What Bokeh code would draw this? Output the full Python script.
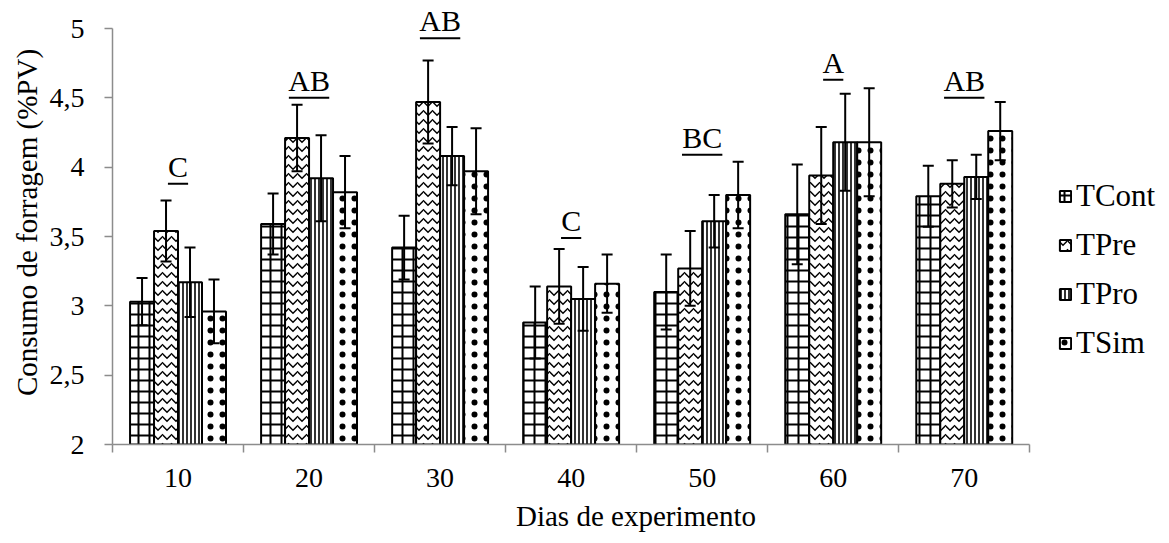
import numpy as np
from bokeh.plotting import figure
from bokeh.models import (ColumnDataSource, Range1d, FixedTicker, Whisker, TeeHead,
                          Legend, LegendItem)
from bokeh.embed import file_html
from bokeh.resources import INLINE
from bokeh.core.properties import value

# ---- data ----
days = ["10", "20", "30", "40", "50", "60", "70"]
series_names = ["TCont", "TPre", "TPro", "TSim"]
tcont = [3.03, 3.59, 3.42, 2.88, 3.10, 3.66, 3.79]
tcont_err = [0.17, 0.22, 0.23, 0.26, 0.27, 0.36, 0.22]
tpre = [3.54, 4.21, 4.47, 3.14, 3.27, 3.94, 3.88]
tpre_err = [0.22, 0.24, 0.30, 0.27, 0.27, 0.35, 0.17]
tpro = [3.17, 3.92, 4.08, 3.05, 3.61, 4.18, 3.93]
tpro_err = [0.25, 0.31, 0.21, 0.23, 0.19, 0.35, 0.16]
tsim = [2.96, 3.82, 3.97, 3.16, 3.80, 4.18, 4.26]
tsim_err = [0.23, 0.26, 0.31, 0.21, 0.24, 0.39, 0.21]
letters = ["C", "AB", "AB", "C", "BC", "A", "AB"]
letter_level = [3.88, 4.50, 4.93, 3.49, 4.09, 4.63, 4.50]
y_ticks = [2, 2.5, 3, 3.5, 4, 4.5, 5]
y_tick_labels = ["2", "2,5", "3", "3,5", "4", "4,5", "5"]

FONT = "Liberation Serif"
AXIS_GRAY = "#8c8c8c"

p = figure(width=1169, height=543, output_backend="svg", toolbar_location=None,
           x_range=Range1d(0.5, 8.49), y_range=Range1d(2, 5.202),
           min_border_left=112, min_border_right=10, min_border_top=0,
           min_border_bottom=99)
p.outline_line_color = None
p.xgrid.visible = False
p.ygrid.visible = False

n = len(days)
centers = np.arange(1, n + 1, dtype=float)
bw = 0.183
values = [tcont, tpre, tpro, tsim]
errors = [tcont_err, tpre_err, tpro_err, tsim_err]
hatches = [("cross", 11, 2.0), ("horizontal_wave", 9, 1.5),
           ("vertical_line", 4, 1.6), ("dot", 12, 1.3)]

items = []
for k, (name, vals, errs, (hp, hs, hw)) in enumerate(zip(series_names, values, errors, hatches)):
    xs = centers + (k - 1.5) * bw
    src = ColumnDataSource(dict(x=xs, top=vals,
                                upper=np.array(vals) + np.array(errs),
                                lower=np.array(vals) - np.array(errs)))
    r = p.vbar(x="x", top="top", bottom=2, width=bw, source=src,
               fill_color="white", line_color="black", line_width=2,
               hatch_pattern=value(hp), hatch_scale=hs, hatch_weight=hw,
               hatch_color="black")
    w = Whisker(source=src, base="x", upper="upper", lower="lower",
                line_color="black", line_width=2, level="annotation",
                upper_head=TeeHead(size=11, line_width=2, line_color="black"),
                lower_head=TeeHead(size=11, line_width=2, line_color="black"))
    p.add_layout(w)
    items.append(LegendItem(label=name, renderers=[r]))

# significance letters with underline
p.text(x=centers, y=letter_level, text=letters, text_align="center",
       text_baseline="bottom", y_offset=-1, text_font=value(FONT),
       text_font_size="30px", text_color="black")
half = np.array([len(s) for s in letters]) * 0.077
p.segment(x0=centers - half, x1=centers + half, y0=letter_level, y1=letter_level,
          line_color="black", line_width=2)

# x axis: labels at centres, ticks at boundaries
xa = p.xaxis[0]
xa.ticker = FixedTicker(ticks=list(centers),
                        minor_ticks=list(np.arange(0.5, n + 1, 1.0)))
xa.major_label_overrides = {float(c): d for c, d in zip(centers, days)}
xa.bounds = (0.5, n + 0.5)
xa.major_tick_out = 0
xa.major_tick_in = 0
xa.minor_tick_out = 8
xa.minor_tick_in = 0
xa.minor_tick_line_color = AXIS_GRAY
xa.minor_tick_line_width = 1.5
xa.axis_line_color = AXIS_GRAY
xa.axis_line_width = 1.5
xa.major_label_standoff = 16
xa.major_label_text_font = FONT
xa.major_label_text_font_size = "28px"
xa.major_label_text_color = "black"
xa.axis_label = "Dias de experimento"
xa.axis_label_text_font = FONT
xa.axis_label_text_font_size = "29px"
xa.axis_label_text_font_style = "normal"
xa.axis_label_text_color = "black"
xa.axis_label_standoff = 10

ya = p.yaxis[0]
ya.ticker = FixedTicker(ticks=y_ticks, minor_ticks=[])
ya.major_label_overrides = {float(t): l for t, l in zip(y_ticks, y_tick_labels)}
ya.bounds = (2, 5)
ya.major_tick_out = 8
ya.major_tick_in = 0
ya.major_tick_line_color = AXIS_GRAY
ya.major_tick_line_width = 1.5
ya.axis_line_color = AXIS_GRAY
ya.axis_line_width = 1.5
ya.major_label_standoff = 20
ya.major_label_text_font = FONT
ya.major_label_text_font_size = "28px"
ya.major_label_text_color = "black"
ya.axis_label = "Consumo de forragem (%PV)"
ya.axis_label_text_font = FONT
ya.axis_label_text_font_size = "29px"
ya.axis_label_text_font_style = "normal"
ya.axis_label_text_color = "black"
ya.axis_label_standoff = 4

legend = Legend(items=items, location=(946, 83), orientation="vertical",
                glyph_width=14, glyph_height=14, label_height=34, spacing=13,
                label_standoff=4, padding=0, margin=0,
                border_line_color=None, background_fill_alpha=0,
                label_text_font=FONT, label_text_font_size="31px",
                label_text_color="black")
p.add_layout(legend)

open("out.html", "w").write(file_html(p, INLINE))
